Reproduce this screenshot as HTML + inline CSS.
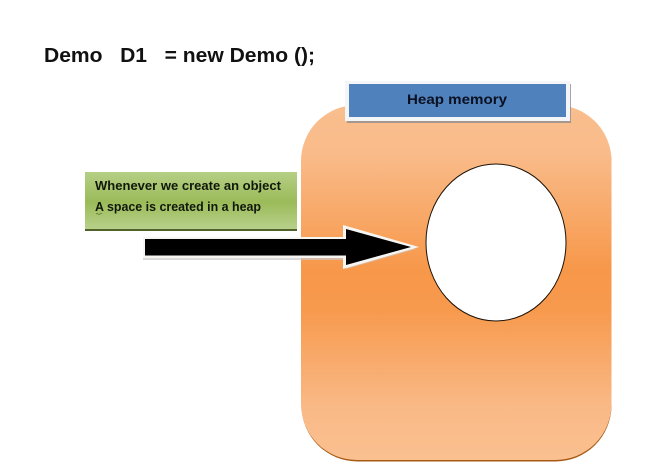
<!DOCTYPE html>
<html>
<head>
<meta charset="utf-8">
<style>
html,body{margin:0;padding:0;background:#fff;}
svg{display:block;}
text{font-family:"Liberation Sans",sans-serif;font-weight:bold;}
</style>
</head>
<body>
<svg width="660" height="474" viewBox="0 0 660 474" xmlns="http://www.w3.org/2000/svg">
<defs>
<linearGradient id="o" x1="0" y1="0" x2="0" y2="1">
<stop offset="0" stop-color="#f9be8e"/>
<stop offset="0.14" stop-color="#f9bb89"/>
<stop offset="0.47" stop-color="#f79749"/>
<stop offset="0.58" stop-color="#f79a4e"/>
<stop offset="0.85" stop-color="#f9b986"/>
<stop offset="1" stop-color="#fac090"/>
</linearGradient>
<linearGradient id="g" x1="0" y1="0" x2="0" y2="1">
<stop offset="0" stop-color="#b5cf85"/>
<stop offset="0.52" stop-color="#9bbb59"/>
<stop offset="1" stop-color="#b9d18c"/>
</linearGradient>
</defs>
<rect width="660" height="474" fill="#fff"/>

<text x="44" y="62" font-size="20.5" fill="#111" textLength="271" lengthAdjust="spacingAndGlyphs" xml:space="preserve">Demo   D1   = new Demo ();</text>

<rect x="301.500" y="106.500" width="310" height="355" rx="56" ry="56" fill="#a85a14"/>
<rect x="301" y="105" width="310.500" height="355" rx="56" ry="56" fill="url(#o)"/>

<rect x="347" y="84" width="224" height="39" fill="#8f8f8f" opacity="0.8"/>
<rect x="345" y="81" width="225" height="40" fill="#f4f5f9"/>
<rect x="349" y="84" width="217" height="33" fill="#4f81bd"/>
<text x="407" y="104" font-size="14" fill="#0b1020" textLength="100" lengthAdjust="spacingAndGlyphs">Heap memory</text>

<ellipse cx="496" cy="242.500" rx="70" ry="78.500" fill="#fff" stroke="#1c1208" stroke-width="1"/>

<rect x="85" y="172" width="212" height="58" fill="url(#g)"/>
<rect x="85" y="229" width="212" height="2" fill="#4f6228"/>
<text x="95" y="190" font-size="12.500" fill="#10180a" textLength="186" lengthAdjust="spacingAndGlyphs">Whenever we create an object</text>
<text x="95" y="211" font-size="12.500" fill="#10180a" textLength="166" lengthAdjust="spacingAndGlyphs">A space is created in a heap</text>
<path d="M96 214 q1 -1 2 0 t2 0 t2 0" fill="none" stroke="#5a7a30" stroke-width="0.7"/>

<polygon points="143,238 346,238 346,229 416,247 346,267 346,258 143,258" fill="#c9c9c9" transform="translate(0,2)" opacity="0.7"/>
<polygon points="143,237 343,237 343,225 419,247 343,269 343,258 143,258" fill="#f7f5f2"/>
<polygon points="145,239 346,239 346,229 411,247 346,265 346,255.500 145,255.500" fill="#000"/>
</svg>
</body>
</html>
